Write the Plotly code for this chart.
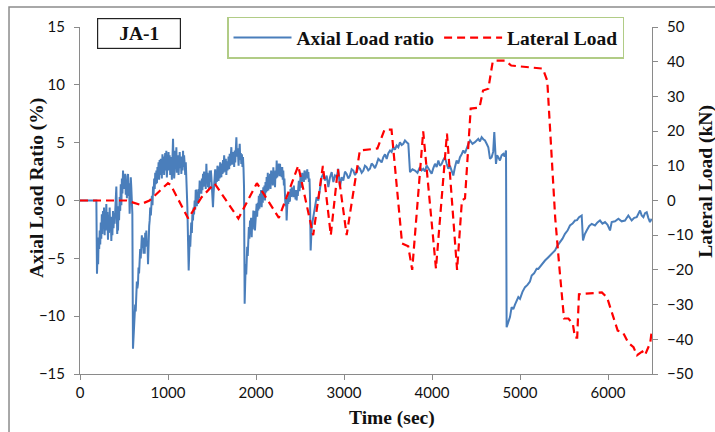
import plotly.graph_objects as go

# Axial load ratio (%) samples as (time s, ratio %)
axial_samples = [
    (0, 0.0), (186, 0.0), (193, -6.34), (200, -4.5), (206, -5.5), (212, -3.2), (218, -4.2), (224, -2.6),
    (230, -3.8), (236, -1.9), (242, -3.3), (248, -1.2), (254, -2.9), (261, -0.9), (267, -2.4), (273, -0.6),
    (280, -3.0), (286, -1.0), (292, -2.6), (299, -0.3), (305, -2.2), (311, -1.0), (318, -3.4), (324, -1.5),
    (330, -2.8), (337, -0.6), (343, -2.5), (350, -1.4), (356, -3.5), (362, -1.8), (368, -3.0), (375, -0.9),
    (381, -2.4), (387, -1.1), (394, -2.0), (400, -0.3), (406, 0.6), (413, 1.2), (418, -0.8), (423, -2.9),
    (428, -1.2), (432, -2.6), (438, -0.5), (444, -1.7), (451, 0.3), (457, -0.9), (463, 1.4), (470, -0.4),
    (476, 1.9), (482, 0.6), (489, 2.6), (495, 1.0), (501, 2.2), (508, 1.1), (514, 2.3), (520, 0.5),
    (527, 1.8), (533, 0.2), (540, 2.1), (546, 2.3), (552, 0.4), (558, 1.5), (564, -1.15), (570, 0.9),
    (577, 2.0), (583, 1.15), (589, -0.3), (595, -1.15), (602, -12.82),
    (608, -11.5), (614, -10.2), (621, -10.4), (627, -9.0), (633, -9.6), (640, -8.1), (646, -7.0), (652, -7.6),
    (659, -7.2), (665, -5.8), (671, -6.3), (678, -5.2), (684, -4.2), (690, -5.0), (697, -4.0), (703, -3.0),
    (709, -4.1), (716, -3.2), (722, -4.6), (728, -3.5), (735, -4.6), (741, -2.8), (748, -3.6), (754, -2.6),
    (760, -4.0), (767, -3.5), (773, -5.5), (779, -3.2), (786, -2.2), (792, -1.7), (798, -0.6), (805, -1.3),
    (811, -0.3), (817, 0.4), (824, -0.4), (830, 1.2), (836, 0.5), (843, 1.9), (849, 1.0), (855, 2.4),
    (862, 1.4), (868, 2.6), (874, 1.5), (880, 2.9), (886, 2.0), (893, 3.3), (899, 1.8), (905, 3.5),
    (911, 2.2), (918, 3.6), (924, 2.9), (930, 1.9), (937, 4.0), (943, 2.4), (949, 3.8), (956, 2.2),
    (962, 3.2), (968, 4.1), (975, 2.6), (981, 4.3), (987, 2.0), (994, 3.4), (1000, 2.6), (1006, 4.2),
    (1013, 2.9), (1019, 3.9), (1025, 2.2), (1032, 3.6), (1038, 3.75), (1044, 1.8), (1051, 3.9), (1057, 5.33),
    (1063, 3.4), (1070, 1.9), (1076, 2.6), (1082, 4.3), (1089, 2.7), (1095, 4.6), (1101, 2.4), (1108, 3.9),
    (1114, 3.5), (1120, 2.2), (1127, 3.6), (1133, 4.18), (1139, 2.8), (1146, 3.4), (1152, 2.3), (1158, 3.8),
    (1165, 2.6), (1171, 4.3), (1177, 2.9), (1183, 3.9), (1189, 3.17), (1196, 2.2), (1202, 3.3), (1208, 2.02),
    (1214, 1.5), (1220, -0.58), (1228, -3.5), (1235, -6.05),
    (1241, -4.6), (1247, -3.0), (1253, -4.0), (1258, -3.2), (1264, -1.9), (1271, -2.8), (1277, -1.2), (1284, -1.73),
    (1290, -0.6), (1296, -1.2), (1303, 0.0), (1309, -0.8), (1315, 0.9), (1322, 0.86), (1328, -0.5), (1334, 0.6),
    (1341, -0.29), (1347, 1.0), (1353, 0.2), (1360, 1.73), (1366, 0.6), (1372, 1.5), (1379, 0.58), (1385, 1.9),
    (1391, 0.9), (1398, 2.3), (1404, 1.2), (1410, 2.5), (1417, 1.44), (1423, 2.2), (1429, 1.0), (1436, 3.17),
    (1442, 1.8), (1449, 2.4), (1455, 1.15), (1461, 2.0), (1468, 0.9), (1474, 2.59), (1480, 1.6), (1487, 2.6),
    (1493, 2.02), (1499, 0.9), (1505, -0.3), (1511, -0.58), (1518, 0.6), (1524, 1.9), (1530, 1.73), (1536, 2.7),
    (1543, 1.4), (1549, 2.5), (1555, 1.6), (1562, 3.0), (1568, 2.88), (1574, 1.7), (1581, 2.8), (1587, 1.9),
    (1593, 3.3), (1600, 2.2), (1606, 2.02), (1612, 3.2), (1619, 2.3), (1625, 3.5), (1631, 2.4), (1638, 3.9),
    (1644, 3.46), (1650, 2.5), (1657, 3.6), (1663, 2.2), (1669, 3.4), (1676, 2.6), (1682, 2.88), (1688, 3.8),
    (1695, 2.7), (1701, 4.03), (1707, 3.0), (1714, 3.9), (1720, 4.61), (1726, 3.1), (1733, 4.0), (1739, 3.17),
    (1745, 4.2), (1752, 2.9), (1758, 4.32), (1764, 3.3), (1771, 4.6), (1777, 5.47), (1783, 3.8), (1790, 4.5),
    (1796, 4.03), (1802, 3.0), (1809, 4.2), (1815, 4.9), (1821, 3.5), (1827, 4.1), (1833, 3.17), (1840, 4.0),
    (1846, 2.9), (1852, 3.75), (1858, 2.8), (1864, 1.15), (1871, -8.93),
    (1877, -7.5), (1883, -5.5), (1889, -6.4), (1894, -5.19), (1900, -4.0), (1906, -4.8), (1913, -3.75), (1919, -2.3),
    (1925, -3.3), (1932, -1.73), (1938, -2.6), (1944, -1.5), (1951, -3.17), (1957, -1.6), (1963, -2.5), (1970, -0.86),
    (1976, -1.9), (1982, -0.9), (1988, -2.59), (1995, -1.2), (2001, -0.5), (2007, -0.29), (2013, -1.4), (2020, -0.2),
    (2026, -0.86), (2032, 0.4), (2039, -0.7), (2045, 0.58), (2051, -0.3), (2058, 0.9), (2064, -0.58), (2070, 0.6),
    (2077, -0.2), (2083, 1.15), (2089, 0.1), (2096, 1.3), (2102, 0.0), (2108, 1.6), (2115, 0.7), (2121, 2.02),
    (2127, 0.8), (2134, 2.4), (2140, 0.86), (2146, 2.0), (2153, 1.2), (2159, 2.30), (2165, 1.0), (2172, 2.6),
    (2178, 1.44), (2184, 2.2), (2191, 1.3), (2197, 2.88), (2203, 1.6), (2210, 2.4), (2216, 1.15), (2222, 2.6),
    (2229, 1.9), (2235, 3.46), (2241, 2.0), (2248, 2.9), (2254, 2.30), (2260, 3.2), (2267, 2.1), (2273, 3.17),
    (2279, 2.2), (2286, 2.8), (2291, 2.02), (2298, 2.9), (2304, 1.8), (2310, 2.59), (2317, 1.3), (2323, 1.9),
    (2329, 0.58), (2335, -0.5), (2342, 0.3), (2348, -1.73), (2354, -0.6), (2361, 0.2), (2367, -0.29), (2373, 0.7),
    (2380, -0.1), (2386, 0.0), (2392, 1.0), (2399, 0.3), (2405, 1.15), (2411, 0.4), (2418, 1.0), (2424, 0.29),
    (2430, 1.3), (2437, 0.5), (2443, 0.86), (2449, 0.1), (2456, 0.9), (2462, 0.0), (2468, 0.9), (2475, 0.4),
    (2481, 1.15), (2487, 1.7), (2494, 0.8), (2500, 1.44), (2506, 2.1), (2513, 1.1), (2519, 1.73), (2525, 2.4),
    (2532, 1.7), (2538, 2.30), (2544, 1.6), (2551, 2.6), (2557, 2.45), (2563, 1.8), (2570, 2.5), (2576, 2.02),
    (2582, 2.7), (2589, 1.9), (2595, 2.45), (2601, 1.6), (2608, 1.9), (2613, 0.58), (2621, -4.32),
    (2632, -2.30), (2651, -1.44), (2670, -0.58), (2689, 0.29), (2708, 0.0), (2727, 1.15), (2746, 2.02), (2765, 2.30),
    (2784, 1.73), (2803, 2.16), (2822, 1.15), (2841, 2.02), (2860, 2.45), (2879, 1.59), (2898, 2.16), (2917, 2.02),
    (2935, 2.74), (2954, 1.15), (2973, 2.02), (2992, 1.73), (3011, 2.5), (3030, 2.30), (3049, 1.9), (3068, 2.16),
    (3087, 2.7), (3106, 2.59), (3125, 2.2), (3144, 2.45), (3163, 2.9), (3182, 2.74), (3201, 2.4), (3220, 2.59),
    (3238, 3.0), (3257, 2.88), (3276, 2.6), (3295, 2.74), (3314, 3.2), (3333, 3.03), (3352, 2.8), (3371, 3.17),
    (3390, 3.6), (3409, 3.46), (3428, 3.3), (3447, 3.75), (3466, 4.0), (3485, 3.6), (3504, 4.1), (3523, 4.32),
    (3541, 4.2), (3560, 4.61), (3579, 4.4), (3598, 4.75), (3617, 4.6), (3636, 5.04), (3655, 4.8), (3674, 4.9),
    (3693, 5.19), (3712, 5.04), (3731, 4.9), (3750, 2.45), (3778, 2.7), (3806, 2.59), (3835, 2.4), (3863, 2.88),
    (3882, 2.6), (3901, 2.74), (3920, 2.5), (3939, 3.03), (3968, 2.7), (3996, 2.31), (4015, 2.8), (4034, 3.17),
    (4053, 2.9), (4072, 3.46), (4091, 3.0), (4110, 3.17), (4128, 3.5), (4147, 3.75), (4166, 3.2), (4185, 2.74),
    (4204, 3.0), (4223, 2.59), (4242, 2.16), (4261, 2.9), (4280, 3.46), (4299, 3.2), (4318, 3.75), (4337, 4.0),
    (4356, 4.32), (4375, 4.1), (4394, 4.61), (4413, 4.9), (4432, 5.19), (4460, 4.9), (4488, 5.04), (4507, 5.2),
    (4526, 5.33), (4545, 5.1), (4564, 5.47), (4583, 5.3), (4602, 5.19), (4621, 4.9), (4640, 4.61), (4659, 3.6),
    (4678, 3.75), (4695, 4.2), (4708, 5.91), (4727, 3.17), (4740, 3.9), (4753, 3.75), (4772, 3.46), (4791, 3.9),
    (4810, 4.03), (4825, 3.8), (4841, 4.32), (4848, -10.95), (4867, -10.4), (4886, -10.08), (4905, -9.22),
    (4924, -9.4), (4943, -9.0), (4962, -8.6), (4981, -8.35), (5000, -8.5), (5028, -7.9), (5057, -7.49),
    (5085, -7.3), (5113, -7.0), (5133, -6.48), (5160, -6.3), (5189, -5.9), (5208, -5.91), (5246, -5.5),
    (5284, -5.19), (5322, -4.9), (5360, -4.61), (5398, -4.32), (5426, -3.9), (5455, -3.6), (5483, -3.3),
    (5511, -2.88), (5540, -2.6), (5568, -2.16), (5597, -2.0), (5625, -1.73), (5648, -1.7), (5671, -1.44),
    (5701, -1.30), (5716, -3.46), (5737, -2.9), (5758, -2.59), (5787, -2.2), (5815, -2.02), (5852, -2.16),
    (5880, -1.9), (5909, -1.73), (5937, -2.0), (5966, -1.87), (5995, -2.1), (6023, -2.59), (6042, -1.87),
    (6080, -1.8), (6118, -1.58), (6155, -1.8), (6193, -1.73), (6231, -1.30), (6269, -1.73), (6298, -1.5),
    (6326, -1.44), (6345, -1.2), (6364, -0.86), (6383, -1.3), (6402, -1.44), (6421, -1.1), (6440, -1.01),
    (6458, -1.5), (6477, -1.87), (6496, -1.58),
]
axial_time = [p[0] for p in axial_samples]
axial_ratio = [p[1] for p in axial_samples]

# Lateral load (kN) against time (s)
lateral_time = [
    0, 530, 680, 790, 1000, 1030, 1230, 1380, 1530, 1800, 2010, 2260, 2480, 2650, 2760, 2850, 2930, 3030,
    3180, 3380, 3460, 3540, 3660, 3730, 3775, 3900, 4045, 4170, 4285, 4340, 4375, 4440, 4540, 4580, 4640,
    4690, 4720, 4830, 4900, 5150, 5260, 5310, 5400, 5450, 5500, 5550, 5600, 5625, 5650, 5670, 5930, 5990,
    6110, 6170, 6230, 6290, 6330, 6390, 6420, 6480, 6500,
]
lateral_load = [
    0, 0, -1.2, 0, 5, 4.5, -5.2, 0.9, 4.9, -5.2, 5, -5, 10, -10, 10, -10, 9, -10,
    14.4, 15, 20.4, 20.4, -12.4, -13.2, -20, 19.9, -19.6, 19.3, -20, 0, 0.6, 26.5, 26.8, 31.7, 32.2,
    40, 40.3, 40.3, 38.9, 38.3, 38, 34.5, -5, -20, -34, -34, -35.5, -39.5, -39.5, -27, -26.5, -28,
    -37.5, -38, -41, -42.3, -44.6, -43.5, -44.6, -41, -37,
]

x_ticks = [0, 1000, 2000, 3000, 4000, 5000, 6000]
left_ticks = [-15, -10, -5, 0, 5, 10, 15]
right_ticks = [-50, -40, -30, -20, -10, 0, 10, 20, 30, 40, 50]

serif = "Liberation Serif"
title_font = dict(family=serif, size=19.5, color="#111")
tick_font = dict(family="Lato", size=15, color="#111")
axis_grey = "#8a8a8a"

fig = go.Figure()
fig.add_trace(go.Scatter(
    x=axial_time, y=axial_ratio, mode="lines", name="<b>Axial Load ratio</b>",
    line=dict(color="#4a7ebb", width=2),
))
fig.add_trace(go.Scatter(
    x=lateral_time, y=lateral_load, mode="lines", name="<b>Lateral Load</b>", yaxis="y2",
    line=dict(color="#ff0000", width=2.2, dash="8px,5px"),
))

axis_common = dict(
    showline=True, linecolor=axis_grey, linewidth=1, ticks="outside",
    tickcolor=axis_grey, ticklen=5, showgrid=False, zeroline=False,
    tickfont=tick_font,
)

fig.update_layout(
    width=715, height=432,
    margin=dict(l=80, r=63, t=27, b=58),
    paper_bgcolor="white", plot_bgcolor="white",
    xaxis=dict(range=[0, 6500], tickvals=x_ticks, **axis_common),
    yaxis=dict(range=[-15, 15], tickvals=left_ticks, ticklabelstandoff=6, **axis_common),
    yaxis2=dict(range=[-50, 50], tickvals=right_ticks, overlaying="y", side="right",
                ticklabelstandoff=6, **axis_common),
    showlegend=True,
    legend=dict(
        orientation="h", x=0.257, y=1.029, xanchor="left", yanchor="top",
        bgcolor="white", bordercolor="#b1cc86", borderwidth=1.5,
        font=title_font, itemwidth=58, tracegroupgap=0,
    ),
)

# Axis titles
fig.add_annotation(text="<b>Time (sec)</b>", xref="paper", yref="paper",
                   x=0.545, y=-0.127, xanchor="center", yanchor="middle", showarrow=False,
                   font=title_font)
fig.add_annotation(text="<b>Axial Load Ratio (%)</b>", xref="paper", yref="paper",
                   x=-0.075, y=0.536, xanchor="center", yanchor="middle", textangle=-90,
                   showarrow=False, font=title_font)
fig.add_annotation(text="<b>Lateral Load (kN)</b>", xref="paper", yref="paper",
                   x=1.094, y=0.556, xanchor="center", yanchor="middle", textangle=-90,
                   showarrow=False, font=title_font)

# Specimen label
fig.add_annotation(text="<b>JA-1</b>", xref="paper", yref="paper",
                   x=0.103, y=0.981, xanchor="center", yanchor="middle", showarrow=False,
                   width=80, height=27, bordercolor="#222", borderwidth=1.2, bgcolor="white",
                   font=title_font)

# Outer frame
fig.add_shape(type="rect", xref="paper", yref="paper",
              x0=-0.1241, x1=1.2, y0=-0.3, y1=1.0576,
              line=dict(color="#8c8c8c", width=1.5), layer="below")

fig.write_html("out.html")
